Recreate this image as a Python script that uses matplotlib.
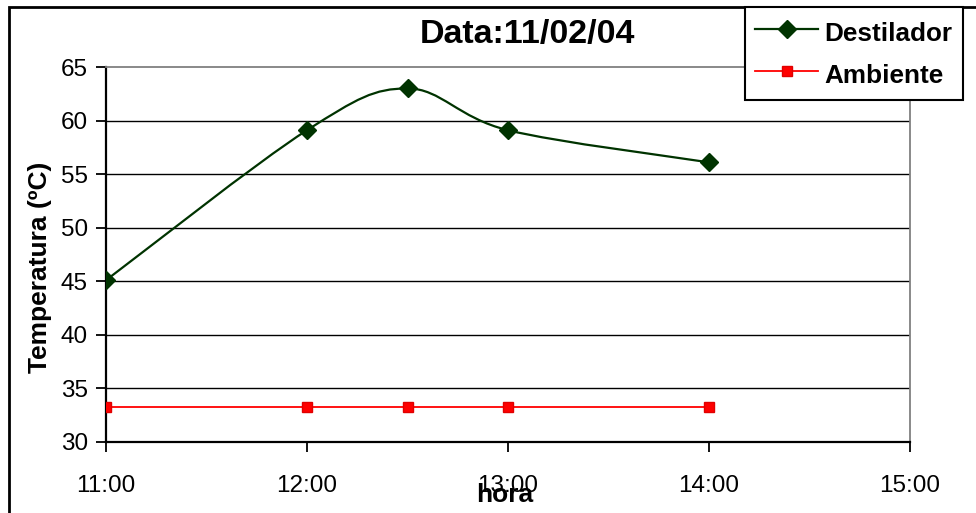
"""Excel-style temperature chart: Destilador vs Ambiente, 11/02/04."""

import matplotlib

matplotlib.use("Agg")
import matplotlib.pyplot as plt
from matplotlib.lines import Line2D
from matplotlib.patches import PathPatch, Rectangle
from matplotlib.path import Path

# hours of the day (12.5 = 12:30)
HOURS = [11.0, 12.0, 12.5, 13.0, 14.0]
DESTILADOR = [45.1, 59.1, 63.0, 59.1, 56.1]
AMBIENTE = [33.3, 33.3, 33.3, 33.3, 33.3]

X_TICKS = [11, 12, 13, 14, 15]
X_LABELS = ["11:00", "12:00", "13:00", "14:00", "15:00"]
Y_TICKS = [30, 35, 40, 45, 50, 55, 60, 65]

GREEN = "#003300"
RED = "#ff0000"
W, H = 976, 513


def smooth_path(xs, ys):
    """Excel-like smoothed line: cubic Bezier through every point."""
    pts = list(zip(xs, ys))
    n = len(pts)
    verts = [pts[0]]
    codes = [Path.MOVETO]
    for i in range(n - 1):
        p0 = pts[max(i - 1, 0)]
        p1 = pts[i]
        p2 = pts[i + 1]
        p3 = pts[min(i + 2, n - 1)]
        c1 = (p1[0] + (p2[0] - p0[0]) / 6, p1[1] + (p2[1] - p0[1]) / 6)
        c2 = (p2[0] - (p3[0] - p1[0]) / 6, p2[1] - (p3[1] - p1[1]) / 6)
        verts += [c1, c2, p2]
        codes += [Path.CURVE4] * 3
    return Path(verts, codes)


def main() -> None:
    plt.rcParams["font.family"] = ["Liberation Sans", "DejaVu Sans"]

    fig = plt.figure(figsize=(W / 100, H / 100), dpi=100)
    ax = fig.add_axes([106 / W, 1 - 442 / H, (910 - 106) / W, (442 - 67) / H])

    # outer chart border (right/bottom edges fall outside the image)
    fig.patches.append(
        Rectangle((9 / W, -0.1), 1.2, 1 - 7 / H + 0.1, transform=fig.transFigure,
                  fill=False, edgecolor="black", linewidth=2)
    )

    for y in Y_TICKS[1:-1]:
        ax.axhline(y, color="black", linewidth=1, zorder=1)

    ax.add_patch(PathPatch(smooth_path(HOURS, DESTILADOR), fill=False,
                           edgecolor=GREEN, linewidth=1.6, zorder=3))
    ax.plot(HOURS, DESTILADOR, linestyle="none", marker="D", markersize=9,
            color=GREEN, zorder=4)
    ax.plot(HOURS, AMBIENTE, color=RED, linewidth=1.3, marker="s",
            markersize=7, markerfacecolor=RED, markeredgecolor="#e00000", zorder=4)

    ax.set_xlim(11, 15)
    ax.set_ylim(30, 65)
    ax.set_xticks(X_TICKS)
    ax.set_xticklabels(X_LABELS)
    ax.set_yticks(Y_TICKS)
    ax.tick_params(direction="out", length=7, width=1.3, labelsize=17.5,
                   color="black")
    ax.tick_params(axis="x", pad=17)
    ax.tick_params(axis="y", pad=6)
    for side in ("top", "right"):
        ax.spines[side].set_color("#808080")
        ax.spines[side].set_linewidth(1.3)
    for side in ("left", "bottom"):
        ax.spines[side].set_color("black")
        ax.spines[side].set_linewidth(1.6)

    fig.text(527 / W, 1 - 34 / H, "Data:11/02/04", ha="center", va="center",
             fontsize=24.5, fontweight="bold")
    fig.text(40 / W, 1 - 267 / H, "Temperatura (ºC)", ha="center", va="center",
             rotation=90, fontsize=19, fontweight="bold")
    fig.text(505 / W, 1 - 495 / H, "hora", ha="center", va="center",
             fontsize=19, fontweight="bold")

    handles = [
        Line2D([], [], color=GREEN, linewidth=1.6, marker="D", markersize=9),
        Line2D([], [], color=RED, linewidth=1.3, marker="s", markersize=7,
               markeredgecolor="#e00000"),
    ]
    leg = fig.legend(handles, ["Destilador", "Ambiente"], loc="upper left",
                     bbox_to_anchor=(745 / W, 1 - 7 / H), borderaxespad=0,
                     prop={"weight": "bold", "size": 18.8}, handlelength=2.4,
                     handleheight=1.35, handletextpad=0.25, labelspacing=0.5,
                     borderpad=0.4, fancybox=False, framealpha=1,
                     edgecolor="black")
    leg.get_frame().set_linewidth(1.5)

    fig.savefig("out.png", dpi=100)
    plt.close(fig)


if __name__ == "__main__":
    main()
